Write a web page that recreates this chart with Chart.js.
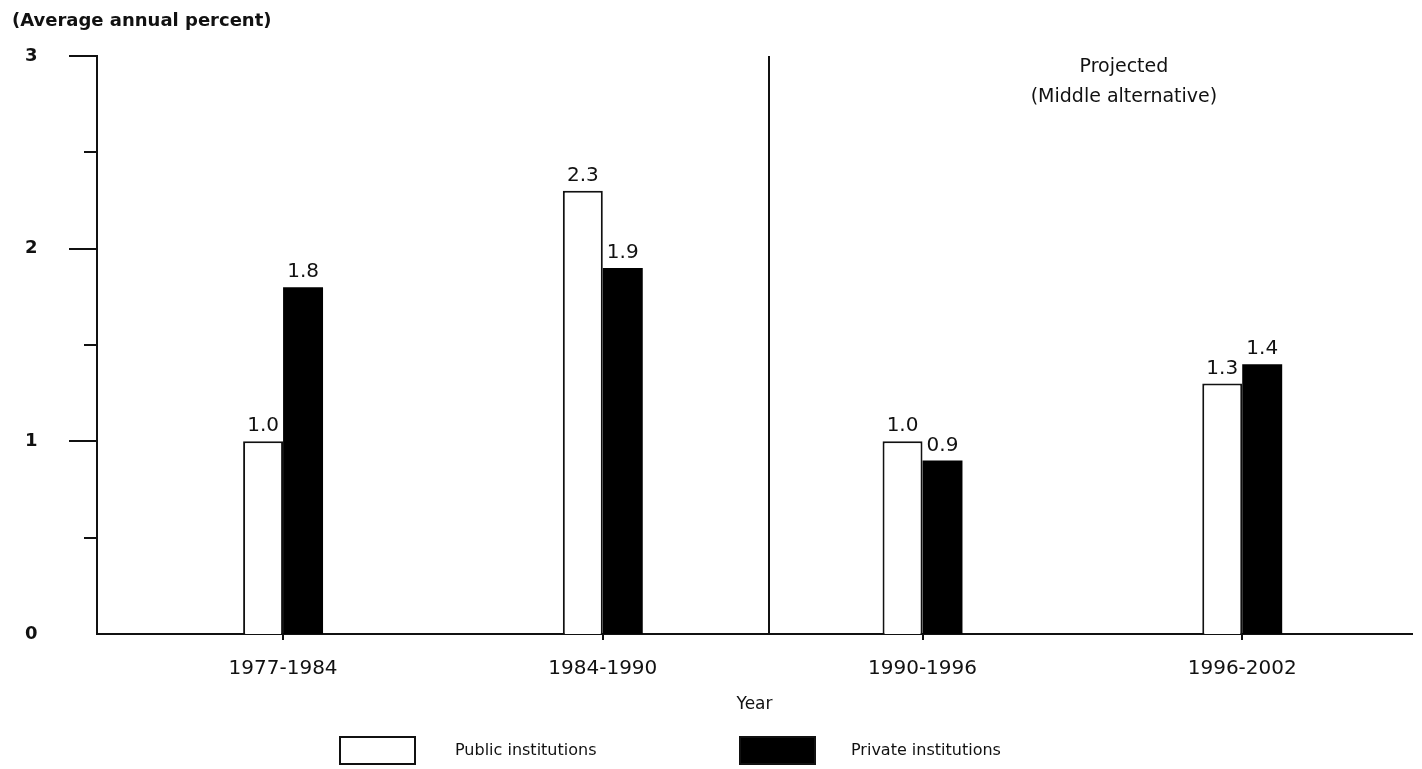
<!DOCTYPE html>
<html>
<head>
<meta charset="utf-8">
<script src="https://cdn.jsdelivr.net/npm/chart.js@4/dist/chart.umd.min.js"></script>
<style>
  html, body { margin: 0; padding: 0; background: #fff; }
  canvas { display: block; }
</style>
</head>
<body>
<canvas id="growth" width="1422" height="769"></canvas>
<script>
// Periods on the horizontal axis
const periods = ['1977-1984', '1984-1990', '1990-1996', '1996-2002'];
// Average annual percent growth by control of institution
const publicGrowth  = [1.0, 2.3, 1.0, 1.3];
const privateGrowth = [1.8, 1.9, 0.9, 1.4];
// Vertical axis ticks (labelled at whole numbers)
const yTickValues = [0, 0.5, 1, 1.5, 2, 2.5, 3];
// Boundary between actual and projected periods, in period-index units
const projectionStart = 1.52;

const ink = '#111';
const family = '"DejaVu Sans", "Liberation Sans", Arial, sans-serif';

const decorations = {
  id: 'decorations',
  afterDatasetsDraw(chart) {
    const { ctx, chartArea, scales: { x, y } } = chart;
    ctx.save();
    ctx.strokeStyle = ink;
    ctx.fillStyle = ink;
    ctx.lineWidth = 2;

    // tick marks on the value axis: long at whole numbers, short at halves
    yTickValues.forEach(v => {
      if (v === 0) return;
      const py = Math.round(y.getPixelForValue(v));
      const len = Number.isInteger(v) ? 28 : 13;
      ctx.beginPath();
      ctx.moveTo(chartArea.left - len, py);
      ctx.lineTo(chartArea.left, py);
      ctx.stroke();
    });

    // divider between actual and projected periods
    const dx = Math.round(x.getPixelForValue(projectionStart));
    ctx.beginPath();
    ctx.moveTo(dx, chartArea.top);
    ctx.lineTo(dx, chartArea.bottom);
    ctx.stroke();

    // value labels above each bar
    ctx.font = '20px ' + family;
    ctx.textAlign = 'center';
    ctx.textBaseline = 'alphabetic';
    chart.data.datasets.forEach((ds, di) => {
      chart.getDatasetMeta(di).data.forEach((bar, i) => {
        ctx.fillText(ds.data[i].y.toFixed(1), bar.x, bar.y - 10);
      });
    });

    // note over the projected half
    const nx = x.getPixelForValue(2.63);
    ctx.font = '19px ' + family;
    ctx.textBaseline = 'middle';
    ctx.fillText('Projected', nx, chartArea.top + 11);
    ctx.fillText('(Middle alternative)', nx, chartArea.top + 41);
    ctx.restore();
  },
  afterDraw(chart) {
    const { ctx } = chart;
    ctx.save();
    ctx.fillStyle = ink;
    ctx.strokeStyle = ink;

    // unit caption above the value axis
    ctx.font = 'bold 18px ' + family;
    ctx.textAlign = 'left';
    ctx.textBaseline = 'alphabetic';
    ctx.fillText('(Average annual percent)', 12, 26);

    // legend
    const items = [
      { left: 340, textLeft: 455 },
      { left: 740, textLeft: 851 }
    ];
    ctx.font = '16px ' + family;
    ctx.textBaseline = 'middle';
    chart.data.datasets.forEach((ds, i) => {
      const it = items[i];
      ctx.fillStyle = ds.backgroundColor;
      ctx.fillRect(it.left, 737, 75, 27);
      ctx.lineWidth = 2;
      ctx.strokeStyle = ink;
      ctx.strokeRect(it.left, 737, 75, 27);
      ctx.fillStyle = ink;
      ctx.fillText(ds.label, it.textLeft, 751);
    });
    ctx.restore();
  }
};

new Chart(document.getElementById('growth'), {
  type: 'bar',
  data: {
    datasets: [
      {
        label: 'Public institutions',
        data: publicGrowth.map((v, i) => ({ x: i, y: v })),
        backgroundColor: '#ffffff',
        borderColor: ink,
        borderWidth: 2
      },
      {
        label: 'Private institutions',
        data: privateGrowth.map((v, i) => ({ x: i, y: v })),
        backgroundColor: '#000000',
        borderColor: '#000000',
        borderWidth: 0
      }
    ]
  },
  options: {
    responsive: false,
    animation: false,
    devicePixelRatio: 1,
    categoryPercentage: 0.25,
    barPercentage: 1.0,
    layout: { padding: { top: 56, right: 10, bottom: 0, left: 25 } },
    plugins: {
      legend: { display: false },
      tooltip: { enabled: false }
    },
    scales: {
      x: {
        type: 'linear',
        offset: false,
        min: -0.582,
        max: 3.531,
        afterBuildTicks(scale) {
          scale.ticks = periods.map((_, i) => ({ value: i }));
        },
        afterFit(scale) { scale.height = 135; },
        grid: {
          display: true,
          offset: false,
          drawOnChartArea: false,
          drawTicks: true,
          tickLength: 6,
          color: ink,
          lineWidth: 2
        },
        border: { display: true, color: ink, width: 2 },
        ticks: {
          autoSkip: false,
          maxRotation: 0,
          padding: 17,
          color: ink,
          font: { family: family, size: 20 },
          callback: v => periods[v] ?? ''
        },
        title: {
          display: true,
          text: 'Year',
          color: ink,
          font: { family: family, size: 17 },
          padding: { top: 0, bottom: 54 }
        }
      },
      y: {
        min: 0,
        max: 3,
        afterBuildTicks(scale) {
          scale.ticks = yTickValues.map(v => ({ value: v }));
        },
        afterFit(scale) { scale.width = 72; },
        grid: { display: false },
        border: { display: true, color: ink, width: 2 },
        ticks: {
          padding: 4,
          crossAlign: 'far',
          color: ink,
          font: { family: family, size: 18, weight: 'bold' },
          callback: v => Number.isInteger(v) ? String(v) : ''
        }
      }
    }
  },
  plugins: [decorations]
});
</script>
</body>
</html>
